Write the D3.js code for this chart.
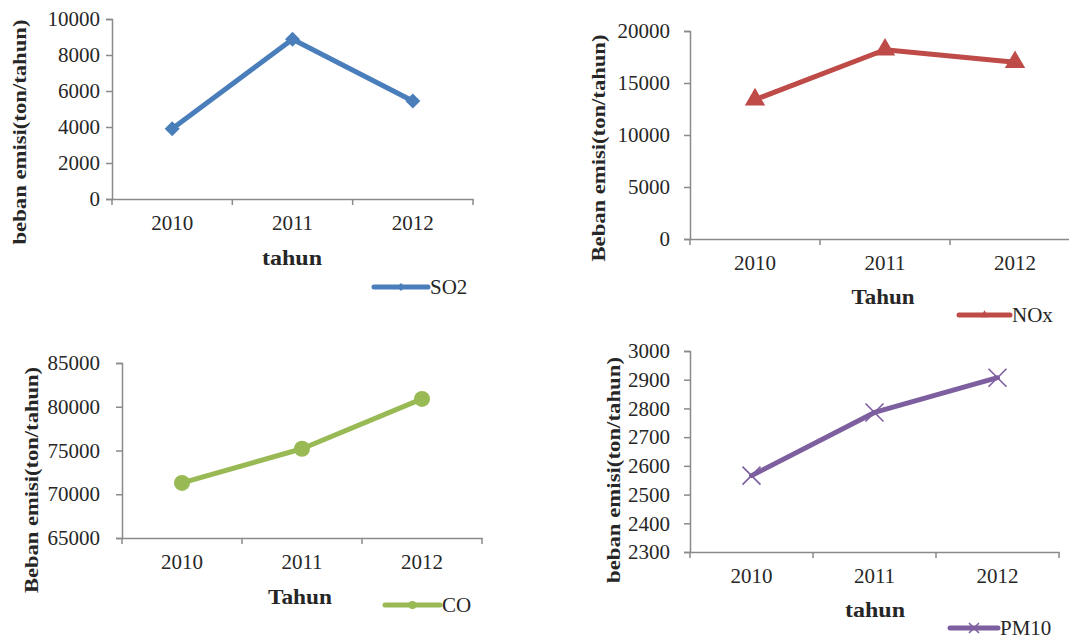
<!DOCTYPE html>
<html>
<head>
<meta charset="utf-8">
<script src="https://cdn.jsdelivr.net/npm/d3@7"></script>
<style>
  html, body { margin: 0; padding: 0; background: #fff; }
  svg { display: block; }
  text { font-family: "Liberation Serif", "Times New Roman", serif; fill: #262626; }
</style>
</head>
<body>
<svg id="chart" width="1069" height="641"></svg>
<script>
// ---- data ----
const years = ["2010", "2011", "2012"];
const so2Values = [3900, 8870, 5440];
const noxValues = [13400, 18200, 17000];
const coValues = [71300, 75200, 80900];
const pm10Values = [2566, 2786, 2907];

const so2Ticks = [0, 2000, 4000, 6000, 8000, 10000];
const noxTicks = [0, 5000, 10000, 15000, 20000];
const coTicks = [65000, 70000, 75000, 80000, 85000];
const pm10Ticks = [2300, 2400, 2500, 2600, 2700, 2800, 2900, 3000];

const svg = d3.select("#chart");

function marker(g, type, color, cx, cy, s) {
  if (type === "diamond") {
    g.append("path").attr("d", d3.symbol(d3.symbolSquare, s * s * 0.5)()).attr("transform", `translate(${cx},${cy}) rotate(45)`).attr("fill", color);
  } else if (type === "triangle") {
    g.append("path").attr("d", d3.symbol(d3.symbolTriangle, s * s * 0.45)()).attr("transform", `translate(${cx},${cy})`).attr("fill", color);
  } else if (type === "circle") {
    g.append("circle").attr("cx", cx).attr("cy", cy).attr("r", s / 2).attr("fill", color);
  } else if (type === "x") {
    const h = s / 2;
    g.append("path").attr("d", `M${cx - h},${cy - h}L${cx + h},${cy + h}M${cx - h},${cy + h}L${cx + h},${cy - h}`)
      .attr("stroke", color).attr("stroke-width", 1.6).attr("fill", "none");
  }
}

function panel(cfg) {
  const g = svg.append("g");
  const x = d3.scaleBand().domain(years).range([cfg.x0, cfg.x1]).padding(0);
  const y = d3.scaleLinear().domain([cfg.ticks[0], cfg.ticks[cfg.ticks.length - 1]]).range([cfg.yBot, cfg.yTop]);
  const axisColor = "#8a8a8a";

  // y axis
  const ya = g.append("g").attr("transform", `translate(${cfg.x0},0)`)
    .call(d3.axisLeft(y).tickValues(cfg.ticks).tickSize(6).tickPadding(cfg.labelGap).tickFormat(d3.format("d")));
  ya.select(".domain").attr("stroke", axisColor).attr("stroke-width", 1.5);
  ya.selectAll(".tick line").attr("stroke", axisColor).attr("stroke-width", 1.5);
  ya.selectAll(".tick text").attr("font-size", 21).attr("font-family", "Liberation Serif").attr("fill", "#262626");

  // x axis (labels at category centers, ticks at boundaries)
  const xa = g.append("g").attr("transform", `translate(0,${cfg.yBot})`)
    .call(d3.axisBottom(x).tickSize(0).tickPadding(cfg.xLabelPad));
  xa.select(".domain").attr("stroke", axisColor).attr("stroke-width", 1.5);
  xa.selectAll(".tick text").attr("font-size", 21).attr("font-family", "Liberation Serif").attr("fill", "#262626");
  const bounds = years.map(d => x(d)).concat([x(years[years.length - 1]) + x.bandwidth()]);
  g.selectAll(".xb").data(bounds).enter().append("line")
    .attr("x1", d => d).attr("x2", d => d).attr("y1", cfg.yBot).attr("y2", cfg.yBot + 6)
    .attr("stroke", axisColor).attr("stroke-width", 1.5);

  // line
  const pts = years.map((d, i) => [x(d) + x.bandwidth() / 2, y(cfg.values[i])]);
  g.append("path").attr("d", d3.line()(pts)).attr("fill", "none")
    .attr("stroke", cfg.color).attr("stroke-width", 5).attr("stroke-linejoin", "round").attr("stroke-linecap", "round");
  pts.forEach(p => marker(g, cfg.marker, cfg.color, p[0], p[1], cfg.msize));

  // y title
  g.append("text").attr("transform", `translate(${cfg.ytX},${cfg.ytY}) rotate(-90)`)
    .attr("text-anchor", "middle").attr("dominant-baseline", "central")
    .attr("font-size", 18).attr("font-weight", "bold")
    .attr("textLength", cfg.ytLen).attr("lengthAdjust", "spacingAndGlyphs")
    .text(cfg.yTitle);

  // x title
  g.append("text").attr("x", cfg.xtX).attr("y", cfg.xtY)
    .attr("text-anchor", "middle").attr("dominant-baseline", "central")
    .attr("font-size", 20).attr("font-weight", "bold")
    .attr("textLength", cfg.xtLen).attr("lengthAdjust", "spacingAndGlyphs")
    .text(cfg.xTitle);

  // legend
  g.append("line").attr("x1", cfg.lgX0).attr("x2", cfg.lgX1).attr("y1", cfg.lgY).attr("y2", cfg.lgY)
    .attr("stroke", cfg.color).attr("stroke-width", 5).attr("stroke-linecap", "round");
  marker(g, cfg.marker, cfg.color, (cfg.lgX0 + cfg.lgX1) / 2, cfg.lgY, cfg.marker === "x" ? 10 : 8);
  g.append("text").attr("x", cfg.lgX1 + 2).attr("y", cfg.lgY).attr("dominant-baseline", "central")
    .attr("font-size", 21).text(cfg.name);
}

panel({ name: "SO2", values: so2Values, ticks: so2Ticks, color: "#4a7ebb", marker: "diamond", msize: 15,
  x0: 112, x1: 473, yTop: 19, yBot: 199, labelGap: 6, xLabelPad: 16,
  yTitle: "beban emisi(ton/tahun)", ytX: 20, ytY: 132, ytLen: 225,
  xTitle: "tahun", xtX: 292, xtY: 258, xtLen: 60,
  lgX0: 374, lgX1: 428, lgY: 287 });

panel({ name: "NOx", values: noxValues, ticks: noxTicks, color: "#be4b48", marker: "triangle", msize: 20,
  x0: 690, x1: 1080, yTop: 31, yBot: 239, labelGap: 14, xLabelPad: 16,
  yTitle: "Beban emisi(ton/tahun)", ytX: 599, ytY: 148, ytLen: 227,
  xTitle: "Tahun", xtX: 883, xtY: 297, xtLen: 63,
  lgX0: 959, lgX1: 1010, lgY: 315 });

panel({ name: "CO", values: coValues, ticks: coTicks, color: "#98b954", marker: "circle", msize: 16,
  x0: 122, x1: 482, yTop: 363, yBot: 538, labelGap: 16, xLabelPad: 16,
  yTitle: "Beban emisi(ton/tahun)", ytX: 32, ytY: 480, ytLen: 226,
  xTitle: "Tahun", xtX: 300, xtY: 597, xtLen: 64,
  lgX0: 385, lgX1: 440, lgY: 605 });

panel({ name: "PM10", values: pm10Values, ticks: pm10Ticks, color: "#7d5fa0", marker: "x", msize: 18,
  x0: 690, x1: 1059, yTop: 351, yBot: 552, labelGap: 14, xLabelPad: 16,
  yTitle: "beban emisi(ton/tahun)", ytX: 614, ytY: 470, ytLen: 226,
  xTitle: "tahun", xtX: 875, xtY: 610, xtLen: 60,
  lgX0: 950, lgX1: 998, lgY: 628 });
</script>
</body>
</html>
